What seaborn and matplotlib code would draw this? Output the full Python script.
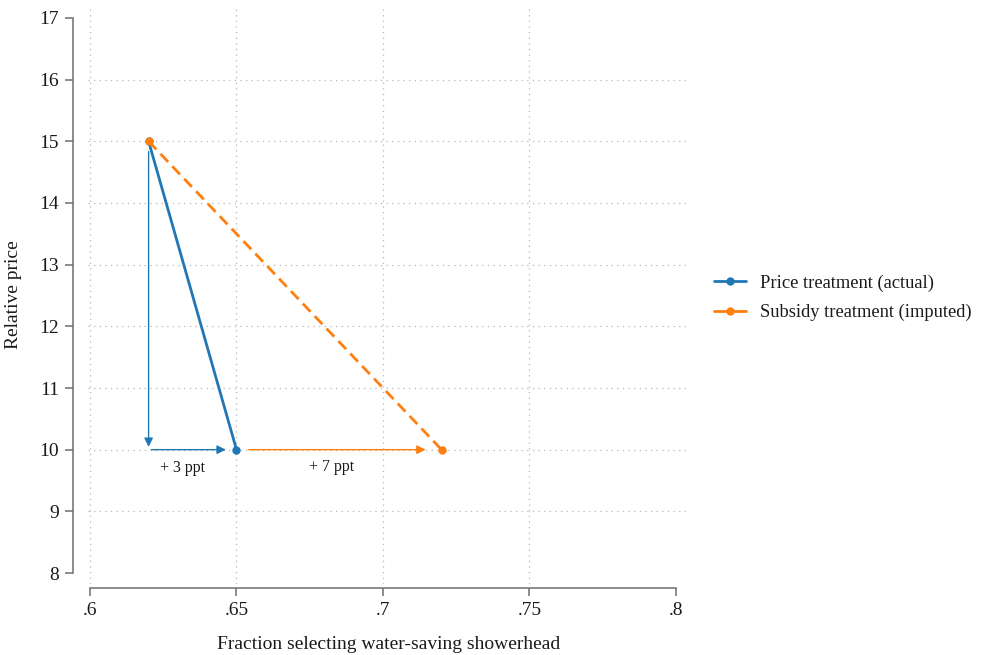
import numpy as np
import pandas as pd
import seaborn as sns
import matplotlib.pyplot as plt

# data
groups = ["Price treatment (actual)", "Price treatment (actual)",
          "Subsidy treatment (imputed)", "Subsidy treatment (imputed)"]
fraction = [0.62, 0.65, 0.62, 0.72]
price = [15, 10, 15, 10]
xticks = [0.6, 0.65, 0.7, 0.75, 0.8]
xticklabels = [".6", ".65", ".7", ".75", ".8"]
yticks = list(range(8, 18))

df = pd.DataFrame({"group": groups, "fraction": fraction, "price": price})

sns.set_style("white")
plt.rcParams["font.family"] = ["Liberation Serif", "DejaVu Serif"]

blue = "#1f77b4"
orange = "#ff7f0e"
grey = "#6e6e6e"
txt = "#1a1a1a"

fig = plt.figure(figsize=(9.85, 6.55), dpi=100)
W, H = 985, 655
ax = fig.add_axes([88 / W, 1 - 584 / H, (690 - 88) / W, (584 - 5) / H])

sns.lineplot(data=df, x="fraction", y="price", hue="group", style="group",
             palette=[blue, orange], dashes=[(None, None), (4, 2.2)],
             markers=["o", "o"], markersize=6, markeredgewidth=0,
             linewidth=2, ax=ax, legend=True)

ax.set_xlim(0.6 - 2 / 2930, 0.8 + 14 / 2930)
ax.set_ylim(8 - 11 / 61.67, 17 + 13 / 61.67)
ax.set_xticks(xticks)
ax.set_xticklabels(xticklabels)
ax.set_yticks(yticks)

# dotted grid, skipping the outer values like the reference
grid_kw = dict(linestyle=(0, (1, 3.5)), color="#b5b5b5", linewidth=0.9, zorder=0)
for y in yticks[1:-1]:
    ax.axhline(y, **grid_kw)
for x in xticks[:-1]:
    ax.axvline(x, **grid_kw)

for s in ["top", "right"]:
    ax.spines[s].set_visible(False)
ax.spines["left"].set_position(("outward", 11))
ax.spines["bottom"].set_position(("outward", 3))
ax.spines["left"].set_bounds(8, 17)
ax.spines["bottom"].set_bounds(0.6, 0.8)
for s in ["left", "bottom"]:
    ax.spines[s].set_color(grey)
    ax.spines[s].set_linewidth(1.1)
ax.tick_params(axis="both", colors=grey, length=6, width=1.1,
               labelsize=14, labelcolor=txt, pad=4,
               left=True, bottom=True)

ax.set_xlabel("Fraction selecting water-saving showerhead", fontsize=14,
              color=txt, labelpad=12)
ax.set_ylabel("Relative price", fontsize=14, color=txt, labelpad=12)

# arrows
arrow_kw = dict(arrowstyle="-|>", mutation_scale=13, linewidth=1)
ax.annotate("", xy=(0.62, 10.0), xytext=(0.62, 14.88),
            arrowprops=dict(color=blue, **arrow_kw))
ax.annotate("", xy=(0.6473, 10.0), xytext=(0.62, 10.0),
            arrowprops=dict(color=blue, **arrow_kw))
ax.annotate("", xy=(0.7155, 10.0), xytext=(0.6532, 10.0),
            arrowprops=dict(color=orange, **arrow_kw))
ax.text(0.6315, 9.7, "+ 3 ppt", fontsize=11.5, ha="center", va="center", color=txt)
ax.text(0.6825, 9.72, "+ 7 ppt", fontsize=11.5, ha="center", va="center", color=txt)

handles, labels = ax.get_legend_handles_labels()
ax.get_legend().remove()
for h in handles:
    h.set_linestyle("-")
    h.set_linewidth(2)
fig.legend(handles, labels, loc="center left", bbox_to_anchor=(697 / W, 1 - 298 / H),
           frameon=False, fontsize=13.3, handlelength=1.75, handletextpad=0.75,
           labelspacing=0.65, labelcolor=txt)

fig.savefig("out.png", dpi=100)
